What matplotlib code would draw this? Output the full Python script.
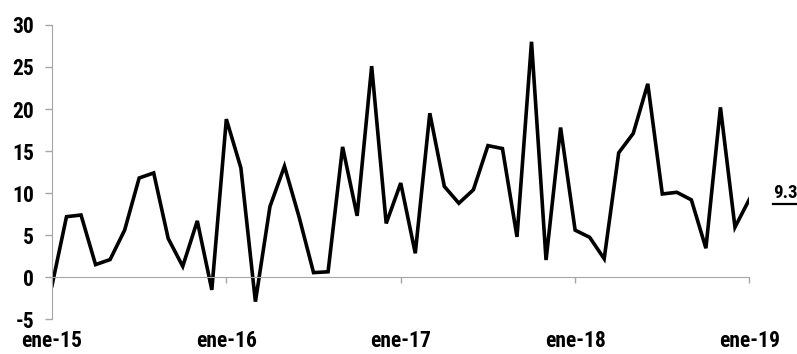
import matplotlib
matplotlib.use("Agg")
import matplotlib.pyplot as plt
from matplotlib.lines import Line2D

plt.rcParams['font.family'] = ['Liberation Sans Narrow', 'Arial Narrow', 'Roboto Condensed',
                               'Archivo Narrow', 'Liberation Sans', 'DejaVu Sans']
plt.rcParams['font.weight'] = 'bold'

# monthly values, ene-15 .. ene-19
values = [-1.0, 7.2, 7.4, 1.5, 2.1, 5.6, 11.8, 12.4, 4.6, 1.3, 6.7, -1.5,
          18.8, 13.0, -2.9, 8.4, 13.2, 7.2, 0.55, 0.65, 15.5, 7.3, 25.1, 6.4,
          11.2, 2.85, 19.5, 10.8, 8.8, 10.4, 15.65, 15.3, 4.8, 28.0, 2.05, 17.8,
          5.6, 4.75, 2.2, 14.8, 17.1, 23.0, 9.9, 10.1, 9.2, 3.45, 20.2, 5.95,
          9.3]
tick_pos = [0, 12, 24, 36, 48]
tick_labels = ['ene-15', 'ene-16', 'ene-17', 'ene-18', 'ene-19']
y_ticks = [-5, 0, 5, 10, 15, 20, 25, 30]
last_label = '9.3'

fig = plt.figure(figsize=(7.97, 3.54), dpi=100)
ax = fig.add_axes([0.0652, 0.098, 0.8752, 0.8316])

x = list(range(len(values)))
ax.plot(x, values, color='black', lw=2.6, solid_joinstyle='miter')

grey = '#a6a6a6'
ax.set_xlim(0, 48)
ax.set_ylim(-5, 30)
ax.set_yticks(y_ticks)
ax.set_yticklabels([str(v) for v in y_ticks], fontsize=15.5)
ax.tick_params(axis='y', direction='out', length=5, width=1, color=grey, pad=8)

for s in ['top', 'right']:
    ax.spines[s].set_visible(False)
ax.spines['left'].set_color(grey)
ax.spines['bottom'].set_color(grey)
ax.spines['bottom'].set_position(('data', 0))
ax.set_xticks(tick_pos)
ax.tick_params(axis='x', direction='out', length=4, width=1, color=grey, labelbottom=False)

sec = ax.secondary_xaxis('bottom')
sec.set_xticks(tick_pos)
sec.set_xticklabels(tick_labels, fontsize=15.5)
sec.tick_params(length=0, pad=8)
sec.spines['bottom'].set_visible(False)

txt = ax.annotate(last_label, xy=(48, values[-1]), xytext=(17, 1), textcoords='offset points',
                  ha='left', va='baseline', fontsize=13.5, fontweight='bold', annotation_clip=False)

fig.canvas.draw()
bb = txt.get_window_extent().transformed(fig.transFigure.inverted())
fig.add_artist(Line2D([bb.x0, bb.x1], [bb.y0 - 0.008, bb.y0 - 0.008],
                      transform=fig.transFigure, color='black', lw=1.6))

fig.savefig('out.png', dpi=100)
